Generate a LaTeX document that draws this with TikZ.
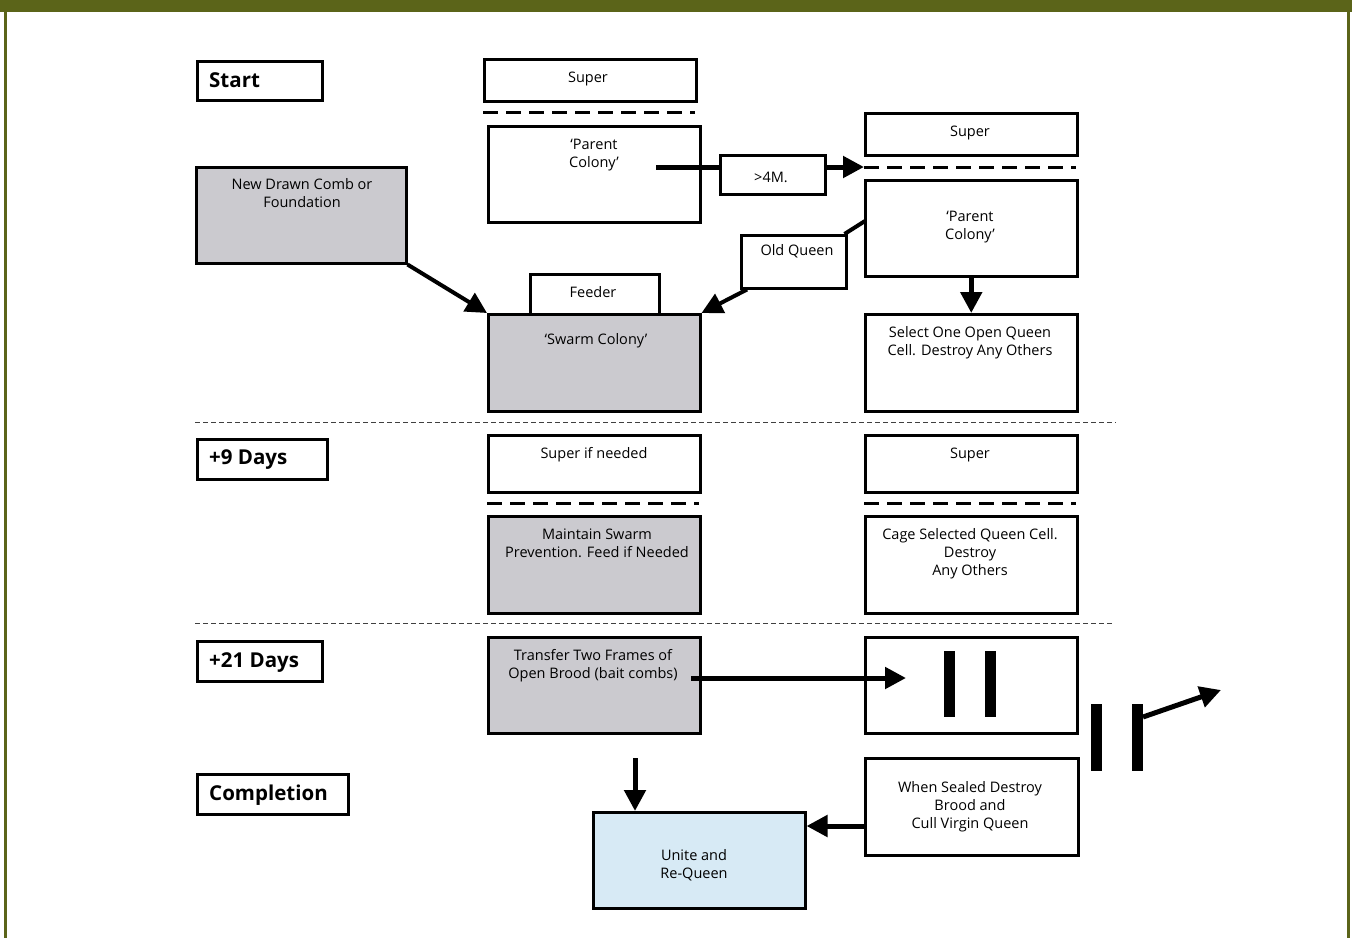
\documentclass[tikz,border=0pt]{standalone}
\usepackage{fontspec}
\setmainfont{Open Sans}
\usetikzlibrary{arrows.meta}
\definecolor{olive}{RGB}{91,100,25}
\definecolor{boxgray}{RGB}{203,202,207}
\definecolor{paleblue}{RGB}{215,234,245}
\begin{document}
\begin{tikzpicture}[x=1pt,y=-1pt,
  box/.style={draw=black, line width=2.5pt, inner sep=0pt, anchor=north west},
  graybox/.style={box, fill=boxgray},
  bluebox/.style={box, fill=paleblue},
  txt/.style={inner sep=0pt, align=center, anchor=north, font=\fontsize{14.5}{18}\selectfont},
  lbl/.style={inner sep=0pt, anchor=base west, font=\fontsize{20.5}{24}\selectfont\bfseries},
  conn/.style={line width=5pt},
  arr/.style={line width=5pt, -{Triangle[length=21pt,width=21pt]}},
  hivesep/.style={line width=3pt, dash pattern=on 15pt off 8pt},
  timesep/.style={line width=1pt, draw=black!75, dash pattern=on 5pt off 3pt},
  bar/.style={fill=black}]
\useasboundingbox (0,0) rectangle (1352,938);
% frame
\fill[olive] (0,0) rectangle (1352,12);
\fill[olive] (4,12) rectangle (6.5,938);
\fill[olive] (1347,12) rectangle (1350,938);

% labels
\node[box, minimum width=125pt, minimum height=39pt] (start) at (196,60) {};
\node[lbl] (startt) at (209,87) {Start};
\node[box, minimum width=130pt, minimum height=40pt] (nine) at (196,438) {};
\node[lbl] (ninet) at (209,464) {+9 Days};
\node[box, minimum width=125pt, minimum height=40pt] (tw) at (196,640) {};
\node[lbl] (twt) at (209,667) {+21 Days};
\node[box, minimum width=151pt, minimum height=40pt] (comp) at (196,773) {};
\node[lbl] (compt) at (209,800) {Completion};

% start row
\node[box, minimum width=212pt, minimum height=42pt] (superA) at (483,58) {};
\node[txt] (superAt) at (588,71.5) {Super};
\draw[hivesep] (483,112) -- (695,112);
\node[box, minimum width=212pt, minimum height=96pt] (parentA) at (487,125) {};
\node[txt] (parentAt) at (594,138.5) {‘Parent\\Colony’};
\node[box, minimum width=105pt, minimum height=39pt] (m4) at (719,154) {};
\node[txt] (m4t) at (771,171.5) {>4M.};
\node[box, minimum width=212pt, minimum height=42pt] (superB) at (864,112) {};
\node[txt] (superBt) at (970,125.5) {Super};
\coordinate (pB) at (864,167);
\coordinate (pBe) at (1076,167);
\draw[hivesep] (pB) -- (pBe);
\node[box, minimum width=212pt, minimum height=96pt] (parentB) at (864,179) {};
\node[txt] (parentBt) at (970,210.5) {‘Parent\\Colony’};
\node[box, minimum width=212pt, minimum height=97pt] (select) at (864,313) {};
\node[txt] (selectt) at (970,326.5) {Select One Open Queen\\Cell. Destroy Any Others};
\node[box, fill=white, minimum width=105pt, minimum height=53pt] (oldq) at (740,234) {};
\node[txt] (oldqt) at (797,244.5) {Old Queen};
\node[graybox, minimum width=210pt, minimum height=96pt] (comb) at (195,166) {};
\node[txt] (combt) at (302,178.5) {New Drawn Comb or\\Foundation};
\node[box, minimum width=129pt, minimum height=40pt] (feeder) at (529,273) {};
\node[txt] (feedert) at (593,286.5) {Feeder};
\node[graybox, minimum width=212pt, minimum height=97pt] (swarm) at (487,313) {};
\node[txt] (swarmt) at (596,333.5) {‘Swarm Colony’};

% connectors, start row
\coordinate (pA) at (656,167);
\draw[conn] (pA) -- (pA -| m4.west);
\draw[arr] (m4.east |- pB) -- (pB);
\draw[arr] (parentB.south) -- (select.north);
\coordinate (pq) at (865,221);
\draw[line width=4pt] (pq) -- ([xshift=-3pt]oldq.north east);
\draw[line width=4pt, -{Triangle[length=21pt,width=21pt]}] ([xshift=7pt]oldq.south west) -- (swarm.north east);
\draw[line width=4pt, -{Triangle[length=21pt,width=21pt]}] (comb.south east) -- (swarm.north west);

\draw[timesep] (195,422) -- (1116,422);

% +9 days row
\node[box, minimum width=212pt, minimum height=57pt] (superIf) at (487,434) {};
\node[txt] (superIft) at (594,447.5) {Super if needed};
\draw[hivesep] (487,503) -- (699,503);
\node[graybox, minimum width=212pt, minimum height=97pt] (maint) at (487,515) {};
\node[txt] (maintt) at (597,528.5) {Maintain Swarm\\Prevention. Feed if Needed};
\node[box, minimum width=212pt, minimum height=57pt] (superC) at (864,434) {};
\node[txt] (superCt) at (970,447.5) {Super};
\draw[hivesep] (864,503) -- (1076,503);
\node[box, minimum width=212pt, minimum height=97pt] (cage) at (864,515) {};
\node[txt] (caget) at (970,528.5) {Cage Selected Queen Cell.\\Destroy\\Any Others};

\draw[timesep] (195,623) -- (1113,623);

% +21 days row
\node[graybox, minimum width=212pt, minimum height=96pt] (transfer) at (487,636) {};
\node[txt] (transfert) at (593,649.5) {Transfer Two Frames of\\Open Brood (bait combs)};
\node[box, minimum width=212pt, minimum height=96pt] (barbox) at (864,636) {};
\fill[bar] (944,651) rectangle (955,717);
\fill[bar] (985,651) rectangle (996,717);
\fill[bar] (1091,704) rectangle (1102,771);
\fill[bar] (1132,704) rectangle (1143,771);
\coordinate (tA) at (691,678);
\coordinate (tB) at (906,678);
\draw[arr] (tA) -- (tB);
\coordinate (bA) at (1143,717);
\coordinate (bB) at (1221,690);
\draw[arr] (bA) -- (bB);

% completion row
\node[bluebox, minimum width=212pt, minimum height=96pt] (unite) at (592,811) {};
\node[txt] (unitet) at (694,849.5) {Unite and\\Re-Queen};
\node[box, minimum width=213pt, minimum height=97pt] (sealed) at (864,757) {};
\node[txt] (sealedt) at (970,781.5) {When Sealed Destroy\\Brood and\\Cull Virgin Queen};
\coordinate (dA) at (635,758);
\draw[arr] (dA) -- (dA |- unite.north);
\coordinate (sA) at (864,826);
\draw[arr] (sA) -- (sA -| unite.east);
\end{tikzpicture}
\end{document}
